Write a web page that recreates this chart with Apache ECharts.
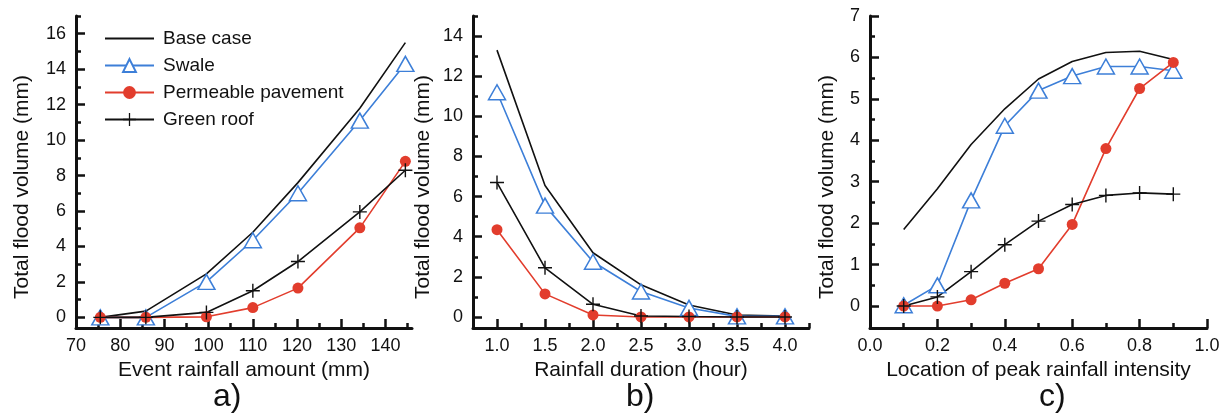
<!DOCTYPE html>
<html lang="en">
<head>
  <meta charset="UTF-8">
  <title>Flood volume</title>
  <script src="https://cdn.jsdelivr.net/npm/echarts@6/dist/echarts.min.js"></script>
  <style>
    html, body { margin: 0; padding: 0; background: #fff; }
    #main { width: 1227px; height: 416px; }
  </style>
</head>
<body>
  <div id="main"></div>
<script>
  // a) event rainfall amount
  var aX = [75.5, 85.8, 99.5, 110, 120.2, 134.2, 144.5];
  var aBase = [0, 0.35, 2.45, 4.8, 7.6, 11.8, 15.5];
  var aSwale = [0, 0, 2.0, 4.35, 7.0, 11.1, 14.3];
  var aPerm = [0, 0, 0.03, 0.55, 1.65, 5.05, 8.8];
  var aGreen = [0, 0, 0.28, 1.5, 3.15, 5.95, 8.3];
  var aXTicks = [70, 80, 90, 100, 110, 120, 130, 140];
  var aXMinor = [75, 85, 95, 105, 115, 125, 135, 145];
  var aYTicks = [0, 2, 4, 6, 8, 10, 12, 14, 16];
  var aYMinor = [1, 3, 5, 7, 9, 11, 13, 15, 17];

  // b) rainfall duration
  var bX = [1.0, 1.5, 2.0, 2.5, 3.0, 3.5, 4.0];
  var bBase = [13.3, 6.55, 3.2, 1.6, 0.6, 0.1, 0.05];
  var bSwale = [11.2, 5.55, 2.75, 1.27, 0.45, 0.03, 0.03];
  var bPerm = [4.35, 1.15, 0.1, 0, 0, 0, 0];
  var bGreen = [6.7, 2.45, 0.63, 0.05, 0.02, 0, 0];
  var bXTicks = [1.0, 1.5, 2.0, 2.5, 3.0, 3.5, 4.0];
  var bXMinor = [1.25, 1.75, 2.25, 2.75, 3.25, 3.75, 4.25];
  var bYTicks = [0, 2, 4, 6, 8, 10, 12, 14];
  var bYMinor = [1, 3, 5, 7, 9, 11, 13, 15];

  // c) location of peak intensity
  var cX = [0.1, 0.2, 0.3, 0.4, 0.5, 0.6, 0.7, 0.8, 0.9];
  var cBase = [1.85, 2.83, 3.9, 4.76, 5.48, 5.9, 6.12, 6.15, 5.95];
  var cSwale = [0.02, 0.5, 2.55, 4.35, 5.2, 5.55, 5.78, 5.78, 5.68];
  var cPerm = [0, 0, 0.15, 0.55, 0.9, 1.97, 3.8, 5.25, 5.88];
  var cGreen = [0, 0.22, 0.83, 1.48, 2.05, 2.45, 2.67, 2.73, 2.7];
  var cXTicks = [0, 0.2, 0.4, 0.6, 0.8, 1.0];
  var cXMinor = [0.1, 0.3, 0.5, 0.7, 0.9];
  var cYTicks = [0, 1, 2, 3, 4, 5, 6, 7];
  var cYMinor = [0.5, 1.5, 2.5, 3.5, 4.5, 5.5, 6.5];

  var FONT = 'Liberation Sans, Arial, sans-serif';
  var BLUE = '#3d7fd8';
  var RED = '#e23d2d';
  var INK = '#111';
  var PLUS = 'path://M9,0h2v9h9v2h-9v9h-2v-9h-9v-2h9z';

  function zip(xs, ys) {
    return xs.map(function (x, i) { return [x, ys[i]]; });
  }

  function axisPair(dim, grid, min, max, ticks, minor, name, gap, fmt, pad) {
    var major = {
      type: 'value', gridIndex: grid, min: min, max: max,
      name: name, nameLocation: 'middle', nameGap: gap,
      nameTextStyle: { fontFamily: FONT, fontSize: 21, color: INK, padding: pad || 0 },
      axisLine: { show: true, onZero: false, lineStyle: { color: INK, width: 3 } },
      axisTick: { show: true, inside: true, length: 9, customValues: ticks, lineStyle: { color: INK, width: 2.5 } },
      axisLabel: { customValues: ticks, fontFamily: FONT, fontSize: 18, color: INK,
                   margin: dim === 'x' ? 9 : 10, formatter: fmt },
      splitLine: { show: false }
    };
    var small = {
      type: 'value', gridIndex: grid, min: min, max: max,
      axisLine: { show: false, onZero: false },
      axisTick: { show: true, inside: true, length: 5, customValues: minor, lineStyle: { color: INK, width: 2.5 } },
      axisLabel: { show: false },
      splitLine: { show: false }
    };
    if (dim === 'x') { major.position = 'bottom'; small.position = 'bottom'; }
    else { major.position = 'left'; small.position = 'left'; }
    return [major, small];
  }

  var oneDec = function (v) { return v.toFixed(1); };
  var xAxes = [].concat(
    axisPair('x', 0, 70, 146, aXTicks, aXMinor, 'Event rainfall amount (mm)', 32),
    axisPair('x', 1, 0.75, 4.25, bXTicks, bXMinor, 'Rainfall duration (hour)', 32, oneDec),
    axisPair('x', 2, 0, 1.0, cXTicks, cXMinor, 'Location of peak rainfall intensity', 32, oneDec)
  );
  var yAxes = [].concat(
    axisPair('y', 0, -0.6, 17, aYTicks, aYMinor, 'Total flood volume (mm)', 43, null, [0, 30, 0, 0]),
    axisPair('y', 1, -0.55, 15, bYTicks, bYMinor, 'Total flood volume (mm)', 39, null, [0, 30, 0, 0]),
    axisPair('y', 2, -0.53, 7, cYTicks, cYMinor, 'Total flood volume (mm)', 32, null, [0, 30, 0, 0])
  );

  function panelSeries(p, xs, base, swale, perm, green) {
    var ax = p * 2;
    return [
      { name: 'Base case', type: 'line', xAxisIndex: ax, yAxisIndex: ax, data: zip(xs, base),
        symbol: 'none', lineStyle: { color: INK, width: 1.6 }, itemStyle: { color: INK } },
      { name: 'Swale', type: 'line', xAxisIndex: ax, yAxisIndex: ax, data: zip(xs, swale),
        symbol: 'triangle', symbolSize: [17, 15], showAllSymbol: true,
        lineStyle: { color: BLUE, width: 1.6 },
        itemStyle: { color: '#fff', borderColor: BLUE, borderWidth: 1.5 } },
      { name: 'Permeable pavement', type: 'line', xAxisIndex: ax, yAxisIndex: ax, data: zip(xs, perm),
        symbol: 'circle', symbolSize: 11, showAllSymbol: true,
        lineStyle: { color: RED, width: 1.6 }, itemStyle: { color: RED } },
      { name: 'Green roof', type: 'line', xAxisIndex: ax, yAxisIndex: ax, data: zip(xs, green),
        symbol: PLUS, symbolSize: 14, showAllSymbol: true,
        lineStyle: { color: INK, width: 1.6 }, itemStyle: { color: INK } }
    ];
  }

  var myChart = echarts.init(document.getElementById('main'), null, { renderer: 'canvas' });
  var option = {
    backgroundColor: '#fff',
    animation: false,
    textStyle: { fontFamily: FONT },
    grid: [
      { left: 76, top: 16, width: 336, bottom: 88 },
      { left: 473, top: 16, width: 336, bottom: 88 },
      { left: 870, top: 16, width: 337, bottom: 88 }
    ],
    legend: {
      orient: 'vertical', left: 99, top: 24, itemWidth: 49, itemHeight: 16, itemGap: 8,
      data: [
        { name: 'Base case', itemStyle: { opacity: 0 } },
        'Swale', 'Permeable pavement', 'Green roof'
      ],
      textStyle: { fontFamily: FONT, fontSize: 19, color: INK, padding: [0, 0, 0, 4] }
    },
    xAxis: xAxes,
    yAxis: yAxes,
    series: [].concat(
      panelSeries(0, aX, aBase, aSwale, aPerm, aGreen),
      panelSeries(1, bX, bBase, bSwale, bPerm, bGreen),
      panelSeries(2, cX, cBase, cSwale, cPerm, cGreen)
    ),
    graphic: [
      { type: 'text', left: 213, top: 381, style: { text: 'a)', font: '32px ' + FONT, fill: INK } },
      { type: 'text', left: 626, top: 381, style: { text: 'b)', font: '32px ' + FONT, fill: INK } },
      { type: 'text', left: 1039, top: 381, style: { text: 'c)', font: '32px ' + FONT, fill: INK } }
    ]
  };
  myChart.setOption(option);
</script>
</body>
</html>
